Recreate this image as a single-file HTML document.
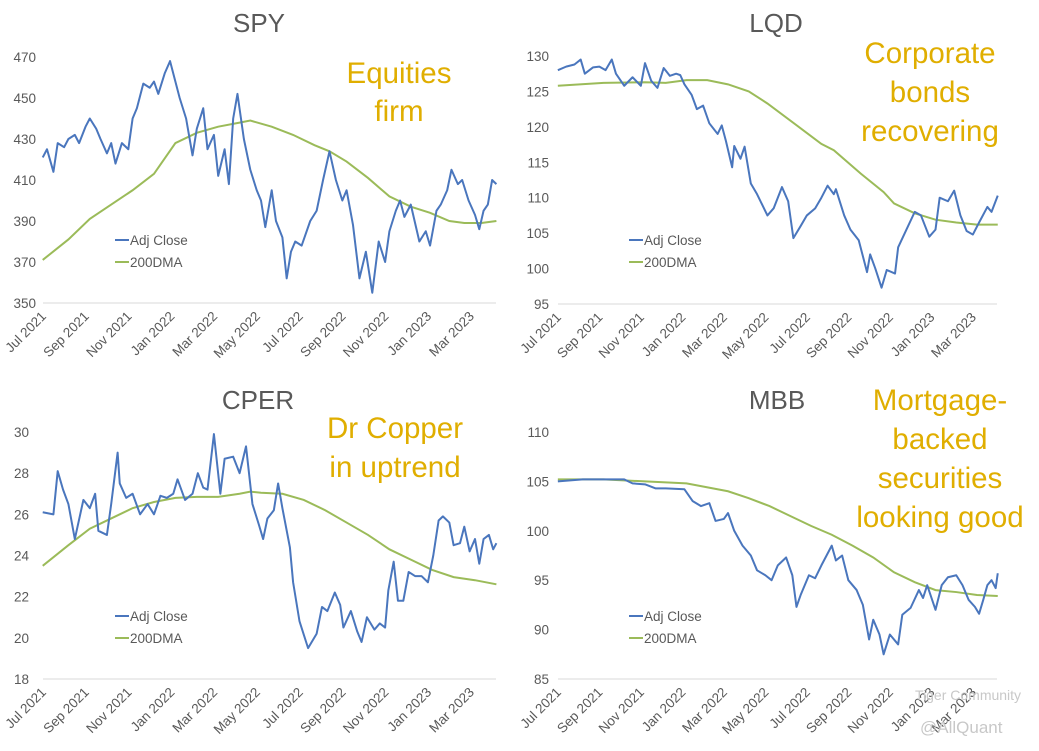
<!DOCTYPE html>
<html><head><meta charset="utf-8"><style>
body{margin:0;background:#fff;width:1039px;height:751px;overflow:hidden;font-family:"Liberation Sans",sans-serif}
svg{position:absolute;left:0;top:0}
</style></head><body>
<svg id="c" width="1039" height="751"></svg>
<script>
const monthLabels=["Jul 2021","Sep 2021","Nov 2021","Jan 2022","Mar 2022","May 2022","Jul 2022","Sep 2022","Nov 2022","Jan 2023","Mar 2023"];
const spyM=[-0.2,0,0.3,0.5,0.8,1,1.3,1.5,1.8,2,2.3,2.5,2.8,3,3.2,3.5,3.8,4,4.2,4.5,4.8,5,5.2,5.5,5.75,6,6.2,6.5,6.8,7,7.3,7.5,7.8,8,8.3,8.5,8.7,8.9,9.2,9.5,9.8,10,10.2,10.5,10.7,11,11.2,11.4,11.6,11.9,12.3,12.6,12.9,13.2,13.5,13.8,14,14.3,14.6,14.9,15.2,15.5,15.8,16,16.3,16.5,16.7,17,17.4,17.7,17.9,18.2,18.4,18.7,18.9,19.2,19.4,19.7,20,20.2,20.4,20.6,20.8,21];
const spyClose=[421,425,414,428,426,430,432,428,436,440,435,430,423,428,418,428,425,440,445,457,455,458,452,462,468,458,450,440,422,435,445,425,432,412,425,408,440,452,430,415,405,400,387,405,390,382,362,375,380,378,390,395,410,424,410,400,405,388,362,375,355,380,370,385,395,400,392,398,380,385,378,395,398,405,415,408,410,400,393,386,395,398,410,408];
const spyDmaM=[-0.2,1,2,3,4,5,6,7,8,9,9.5,10.5,11.5,12.5,13.2,14,15,16,17,17.9,18.8,19.5,20.3,21];
const spyDma=[371,381,391,398,405,413,428,433,436,438,439,436,432,427,424,419,411,402,397,394,390,389,389,390];
const lqdM=[-0.2,0.2,0.6,0.9,1.1,1.5,1.8,2.1,2.4,2.6,3,3.4,3.8,4,4.3,4.6,4.9,5.2,5.5,5.7,5.9,6.25,6.5,6.8,7.1,7.5,7.7,7.9,8.2,8.3,8.6,8.8,9.1,9.4,9.9,10.2,10.6,10.9,11.15,11.5,11.8,12.2,12.5,12.8,13.1,13.2,13.6,13.9,14.3,14.7,14.85,15.1,15.4,15.65,16.05,16.2,16.6,17,17.3,17.7,18,18.2,18.6,18.9,19.2,19.5,19.8,20.1,20.5,20.7,21];
const lqdClose=[128,128.5,128.8,129.5,127.5,128.4,128.5,128,129.5,127.5,125.8,127,125.8,129,126.5,125.5,128.3,127.2,127.5,127.3,126,124.5,122.5,123,120.5,119,120.2,118,114.3,117.3,115.5,117.2,112,110.5,107.5,108.5,111.5,109.5,104.3,106,107.5,108.5,110,111.7,110.5,111.2,107.5,105.5,104,99.5,102,100,97.3,99.8,99.3,103,105.5,108,107.5,104.5,105.5,110,109.5,111,107.5,105.3,104.8,106.5,108.7,108,110.3];
const lqdDmaM=[-0.2,2,4,5,6,7,8,9,9.9,11.5,12.5,13.1,14.4,15.5,16,17,18,19,20,21];
const lqdDma=[125.8,126.2,126.3,126.2,126.6,126.6,126,125,123.3,119.8,117.6,116.7,113.4,110.8,109.2,107.8,106.9,106.5,106.2,106.2];
const cperM=[-0.2,0.3,0.5,0.75,1,1.3,1.7,2,2.25,2.4,2.8,3,3.3,3.4,3.7,4,4.35,4.7,5,5.3,5.6,5.9,6.1,6.45,6.8,7.05,7.3,7.5,7.8,8.1,8.3,8.7,9,9.3,9.6,9.9,10.1,10.3,10.6,10.8,11,11.35,11.5,11.8,12.2,12.6,12.85,13.1,13.45,13.7,13.85,14.2,14.5,14.7,14.95,15.3,15.55,15.8,15.95,16.2,16.4,16.65,16.9,17.2,17.5,17.8,18.05,18.3,18.5,18.8,19,19.3,19.5,19.75,20,20.2,20.4,20.65,20.85,21];
const cperClose=[26.1,26.0,28.1,27.2,26.5,24.8,26.7,26.3,27.0,25.2,25.0,26.5,29.0,27.5,26.8,27.0,26.0,26.5,26.0,26.9,26.8,27.0,27.7,26.7,27.0,28.0,27.3,27.2,29.9,27.0,28.7,28.8,28.0,29.3,26.5,25.5,24.8,25.8,26.2,27.5,26.3,24.4,22.7,20.8,19.5,20.2,21.5,21.3,22.2,21.6,20.5,21.3,20.3,19.8,21.0,20.4,20.7,20.5,22.3,23.7,21.8,21.8,23.2,23.0,23.0,22.7,24.0,25.7,25.9,25.6,24.5,24.6,25.4,24.2,24.8,23.6,24.8,25.0,24.3,24.6];
const cperDmaM=[-0.2,1,2,3,4,5,6,7,8,9,9.5,10,11,12,13,14,15,16,17,18,19,20,21];
const cperDma=[23.5,24.5,25.3,25.8,26.3,26.6,26.8,26.85,26.85,27.0,27.1,27.05,27.0,26.7,26.2,25.6,25.0,24.3,23.8,23.3,22.95,22.8,22.6];
const mbbM=[-0.2,1,2,3,3.4,4,4.5,5,5.9,6.3,6.7,7.1,7.4,7.8,8,8.3,8.7,9.1,9.4,9.8,10.1,10.4,10.8,11.1,11.3,11.5,11.9,12.2,12.5,13,13.2,13.5,13.8,14.2,14.5,14.8,15,15.3,15.5,15.8,16.2,16.4,16.8,17.2,17.4,17.6,18,18.3,18.6,19,19.3,19.6,19.9,20.1,20.3,20.5,20.7,20.9,21];
const mbbClose=[105,105.2,105.2,105.2,104.8,104.7,104.3,104.3,104.2,103,102.5,102.8,101,101.2,101.8,100,98.5,97.5,96,95.5,95,96.5,97.3,95.5,92.3,93.5,95.5,95.2,96.5,98.5,97,97.5,95,94,92.5,89,91,89.5,87.5,89.5,88.5,91.5,92.2,94,93.2,94.5,92,94.5,95.3,95.5,94.5,93,92.3,91.6,93,94.5,95,94.2,95.7];
const mbbDmaM=[-0.2,2,4,6,8,9,10,11,12,13,14,15,16,17,18,19,20,21];
const mbbDma=[105.2,105.2,105,104.8,104,103.3,102.5,101.5,100.5,99.6,98.5,97.3,95.8,94.8,94,93.8,93.5,93.4];

const svg=document.getElementById('c');const NS='http://www.w3.org/2000/svg';
function el(t,a,txt){const e=document.createElementNS(NS,t);for(const k in a)e.setAttribute(k,a[k]);if(txt!==undefined)e.textContent=txt;svg.appendChild(e);return e;}
function panel(o){
  const xs=m=>o.x0+o.pm*m;
  const ys=v=>o.yBot-(v-o.vmin)/(o.vmax-o.vmin)*(o.yBot-o.yTop);
  const t=el('text',{x:o.tx,y:o.ty,'font-size':26,fill:'#595959','text-anchor':'middle'},o.title);
  
  const ax=el('line',{x1:o.ax0,x2:o.ax1,y1:o.yBot,y2:o.yBot,stroke:'#d9d9d9','stroke-width':1});
  
  for(let v=o.vmin;v<=o.vmax+1e-9;v+=o.step){
    const tk=el('text',{x:o.lx,y:ys(v)+5,'font-size':13.5,fill:'#595959','text-anchor':'end'},String(v));
    
  }
  monthLabels.forEach((s,i)=>{const x=xs(i*2),y=o.yBot+14;
    const tk=el('text',{x:x,y:y,'font-size':13.5,fill:'#595959','text-anchor':'end',transform:`rotate(-45 ${x} ${y})`},s);
    });
  const dma=el('polyline',{points:o.dm.map((m,i)=>xs(m)+','+ys(o.dv[i])).join(' '),fill:'none',stroke:'#9BBB59','stroke-width':2});
  
  const cl=el('polyline',{points:o.cm.map((m,i)=>xs(m)+','+ys(o.cv[i])).join(' '),fill:'none',stroke:'#4a76bd','stroke-width':2,'stroke-linejoin':'round'});
  
  [['Adj Close','#4a76bd',0],['200DMA','#9BBB59',22]].forEach(([n,c,d])=>{
    const l=el('line',{x1:o.lgx,x2:o.lgx+14,y1:o.lgy+d,y2:o.lgy+d,stroke:c,'stroke-width':2});
    
    const lt=el('text',{x:o.lgx+15,y:o.lgy+d+5,'font-size':13.5,fill:'#595959'},n);
    
  });
  o.notes.forEach((s,i)=>{const n=el('text',{x:o.nx,y:o.ny+i*o.nd,'font-size':29.5,fill:'#E0AE00','text-anchor':'middle'},s);
    });
}
panel({key:'spy',title:'SPY',tx:259,ty:32,x0:47,pm:21.4,ax0:43,ax1:496,yTop:57,yBot:303,vmin:350,vmax:470,step:20,lx:36,
  cm:spyM,cv:spyClose,dm:spyDmaM,dv:spyDma,lgx:115,lgy:240,notes:['Equities','firm'],nx:399,ny:83,nd:38});
panel({key:'lqd',title:'LQD',tx:776,ty:32,x0:562,pm:20.75,ax0:558,ax1:997,yTop:56,yBot:304,vmin:95,vmax:130,step:5,lx:549,
  cm:lqdM,cv:lqdClose,dm:lqdDmaM,dv:lqdDma,lgx:629,lgy:240,notes:['Corporate','bonds','recovering'],nx:930,ny:63,nd:39});
panel({key:'cper',title:'CPER',tx:258,ty:409,x0:47,pm:21.4,ax0:43,ax1:496,yTop:432,yBot:679,vmin:18,vmax:30,step:2,lx:29,
  cm:cperM,cv:cperClose,dm:cperDmaM,dv:cperDma,lgx:115,lgy:616,notes:['Dr Copper','in uptrend'],nx:395,ny:438,nd:39});
panel({key:'mbb',title:'MBB',tx:777,ty:409,x0:562,pm:20.75,ax0:558,ax1:997,yTop:432,yBot:679,vmin:85,vmax:110,step:5,lx:549,
  cm:mbbM,cv:mbbClose,dm:mbbDmaM,dv:mbbDma,lgx:629,lgy:616,notes:['Mortgage-','backed','securities','looking good'],nx:940,ny:410,nd:39});
const w1=el('text',{x:915,y:700,'font-size':14,fill:'#c8c8c8'},'Tiger Community');

const w2=el('text',{x:920,y:733,'font-size':17,fill:'#c8c8c8'},'@AllQuant');

</script>
</body></html>
